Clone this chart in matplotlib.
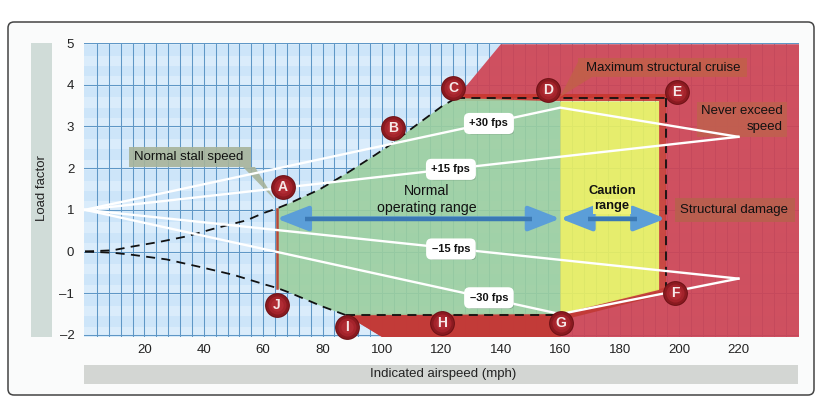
import matplotlib
matplotlib.use('Agg')
import matplotlib.pyplot as plt
import numpy as np
from matplotlib.patches import FancyBboxPatch, Polygon, Rectangle
from matplotlib.transforms import Affine2D

plt.rcParams['font.family'] = ['Liberation Sans', 'DejaVu Sans']

# values
stall_pos_x = [0, 9.4, 16, 25, 34, 43, 54.5, 60, 64.5, 69, 79, 88, 98, 104, 110, 120.5, 125]
stall_pos_y = [0, 0.03, 0.12, 0.23, 0.36, 0.54, 0.75, 0.92, 1.03, 1.16, 1.49, 1.87, 2.33, 2.62, 2.95, 3.5, 3.68]
stall_neg_x = [0, 9.4, 16, 27.5, 38.7, 50, 61, 64.5, 69, 80, 88]
stall_neg_y = [0, -0.03, -0.08, -0.19, -0.37, -0.56, -0.8, -0.87, -0.99, -1.32, -1.53]

top_x = [125, 195.5]
top_y = [3.68, 3.68]
never_x = [195.5, 195.5]
never_y = [3.68, -0.92]
neg_top_x = [88, 160]
neg_top_y = [-1.53, -1.53]

gust_labels = ['+30 fps', '+15 fps', '–15 fps', '–30 fps']
gust_x = [[0, 160, 220], [0, 220], [0, 220], [0, 160, 220]]
gust_y = [[1, 3.45, 2.75], [1, 2.75], [1, -0.65], [1, -1.5, -0.65]]
gust_label_x = [136, 123.2, 123.2, 136]
gust_label_y = [3.07, 1.97, 0.06, -1.11]

point_names = ['A', 'B', 'C', 'D', 'E', 'F', 'G', 'H', 'I', 'J']
point_x = [66.7, 103.7, 124, 155.9, 199.4, 198.7, 160.3, 120.2, 88.2, 64.6]
point_y = [1.54, 2.95, 3.93, 3.88, 3.83, -1.0, -1.71, -1.71, -1.8, -1.28]

x_ticks = list(range(20, 221, 20))
y_ticks = [-2, -1, 0, 1, 2, 3, 4, 5]
y_tick_labels = ['–2', '–1', '0', '1', '2', '3', '4', '5']

W, H = 822, 415
fig = plt.figure(figsize=(W / 100, H / 100), dpi=100, facecolor='white')
px = Affine2D().scale(1, -1).translate(0, H)  # image pixels, y down

# outer frame and axis title bars
fig.add_artist(FancyBboxPatch((12, 26), 798, 365, boxstyle='round,pad=4,rounding_size=6', transform=px,
                              fc='#fafbfb', ec='#444444', lw=1.1, zorder=-5))
fig.add_artist(Rectangle((31, 43), 21, 294, transform=px, fc='#d0dcd8', ec='none', zorder=-4))
fig.add_artist(Rectangle((84, 365), 714, 19, transform=px, fc='#d3d6d3', ec='none', zorder=-4))
fig.text(42 / W, 1 - 188 / H, 'Load factor', rotation=90, ha='center', va='center', fontsize=9.5, color='#222222')
fig.text(443 / W, 1 - 374 / H, 'Indicated airspeed (mph)', ha='center', va='center', fontsize=9.5, color='#222222')

ax = fig.add_axes([84 / W, 1 - 337 / H, 715 / W, 294 / H])
ax.set_xlim(-0.34, 240.4)
ax.set_ylim(-2.05, 4.97)
ax.set_facecolor('#cde5f9')
for s in ax.spines.values():
    s.set_visible(False)
ax.tick_params(length=0, labelsize=9.5, labelcolor='#222222')
ax.tick_params(axis='x', pad=5)
ax.tick_params(axis='y', pad=7)
ax.set_xticks(x_ticks)
ax.set_yticks(y_ticks)
ax.set_yticklabels(y_tick_labels)

# pale stripes and grid
for yb in np.arange(-2.05, 4.97, 0.5):
    ax.axhspan(yb, yb + 0.25, color='#daecfb', lw=0, zorder=0)
for xg in np.arange(4, 240, 4):
    ax.axvline(xg, color='#5f97c6', lw=0.75, zorder=1)
for yg in y_ticks:
    ax.axhline(yg, color='#5f97c6', lw=0.75, zorder=1)

# coloured regions
ax.fill([140, 240.4, 240.4, 100, 88, 160, 195.5, 195.5, 125],
        [4.97, 4.97, -2.05, -2.05, -1.53, -1.53, -0.92, 3.68, 3.68], color='#cf4353', alpha=0.92, lw=0, zorder=2)
ax.fill([125, 195.5, 195.5, 193.3, 193.3, 125], [3.78, 3.78, -0.92, -0.92, 3.6, 3.6], color='#c8372f', alpha=0.9, lw=0, zorder=2.1)
ax.fill([88, 160, 195.5, 195.5, 162, 160, 100, 88], [-1.49, -1.49, -0.86, -1.02, -1.62, -2.05, -2.05, -1.53],
        color='#c23a36', alpha=0.95, lw=0, zorder=2.1)
ax.fill(stall_pos_x[8:] + [160, 160] + stall_neg_x[:6:-1],
        stall_pos_y[8:] + [3.6, -1.5] + stall_neg_y[:6:-1], color='#9ccf9f', alpha=0.9, lw=0, zorder=2.2)
ax.fill([160, 193.3, 193.3, 160], [3.6, 3.6, -0.92, -1.5], color='#e8ee62', alpha=0.93, lw=0, zorder=2.2)

# envelope
ax.plot([64.5, 64.5], [1.03, -0.87], color='#b8483a', lw=1.8, zorder=3)
dash = dict(color='#111111', lw=1.3, ls=(0, (5, 3.5)), zorder=4)
for xs, ys in [(stall_pos_x, stall_pos_y), (stall_neg_x, stall_neg_y), (top_x, top_y),
               (never_x, never_y), (neg_top_x, neg_top_y)]:
    ax.plot(xs, ys, **dash)

# callout boxes sit under the gust lines
callouts = [
    (129, 147, 122, 20, '#a7b39a', [(243, 167), (275, 200), (255, 167)]),
    (578, 58, 169, 19, '#c25f4a', [(578, 62), (560, 97), (592, 77)]),
    (697, 102, 90, 35, '#c0604f', None),
    (675, 198, 120, 24, '#b8604e', None),
]
for x0, y0, w, h, col, tip in callouts:
    ax.add_patch(Rectangle((x0, y0), w, h, transform=px, fc=col, ec='none', alpha=0.9, zorder=4.5, clip_on=False))
    if tip:
        ax.add_patch(Polygon(tip, transform=px, fc=col, ec='none', alpha=0.9, zorder=4.5, clip_on=False))

# gust lines
for xs, ys in zip(gust_x, gust_y):
    ax.plot(xs, ys, color='white', lw=1.7, zorder=5, solid_joinstyle='miter')
for name, xl, yl in zip(gust_labels, gust_label_x, gust_label_y):
    cx, cy = ax.transData.transform((xl, yl))
    ax.add_patch(FancyBboxPatch((cx - 21, cy - 11), 46, 19, boxstyle='round,pad=0,rounding_size=4', transform=None,
                                fc='#44554a', ec='none', alpha=0.3, zorder=5.5, clip_on=False))
    ax.text(xl, yl, name, ha='center', va='center', fontsize=8, fontweight='bold', color='#111111', zorder=6,
            bbox=dict(boxstyle='round,pad=0.5', fc='white', ec='none'))

# range arrows
arrow_shape = '<|-|>,head_length=1.15,head_width=0.45'
for x_from, x_to in [(64.5, 160), (160, 195.5)]:
    ax.annotate('', xy=(x_from, 0.79), xytext=(x_to, 0.79), zorder=7, annotation_clip=False,
                arrowprops=dict(arrowstyle=arrow_shape, mutation_scale=17, lw=3.2, color='#5b9ed8', shrinkA=0, shrinkB=0))
    ax.plot([x_from + 9.5, x_to - 9.5], [0.79, 0.79], color='#3a78b4', lw=3.2, solid_capstyle='butt', zorder=7.1)

ax.text(115, 1.25, 'Normal\noperating range', ha='center', va='center', fontsize=10.2, color='#111111', linespacing=1.25, zorder=8)
ax.text(177.5, 1.45, 'Caution', ha='center', va='center', fontsize=9.3, fontweight='bold', color='#111111', zorder=8)
ax.text(177.5, 1.08, 'range', ha='center', va='center', fontsize=9.3, fontweight='bold', color='#111111', zorder=8,
        bbox=dict(boxstyle='square,pad=0.12', fc='#eef27a', ec='none'))

label_style = dict(transform=px, fontsize=9.5, color='#111111', zorder=9, va='center')
ax.text(134, 157, 'Normal stall speed', ha='left', **label_style)
ax.text(586, 68, 'Maximum structural cruise', ha='left', **label_style)
ax.text(783, 111, 'Never exceed', ha='right', **label_style)
ax.text(783, 127, 'speed', ha='right', **label_style)
ax.text(680, 210, 'Structural damage', ha='left', **label_style)

# lettered points, stacked discs stand in for the shading
for size, shade in [(320, '#6e1216'), (270, '#8a1a20'), (170, '#a3232b'), (80, '#b02c34')]:
    ax.scatter(point_x, point_y, s=size, color=shade, lw=0, zorder=10, clip_on=False)
for name, xp, yp in zip(point_names, point_x, point_y):
    ax.text(xp, yp, name, ha='center', va='center', color='#f6e8e8', fontsize=10, fontweight='bold', zorder=11)

fig.savefig('out.png', dpi=100)
